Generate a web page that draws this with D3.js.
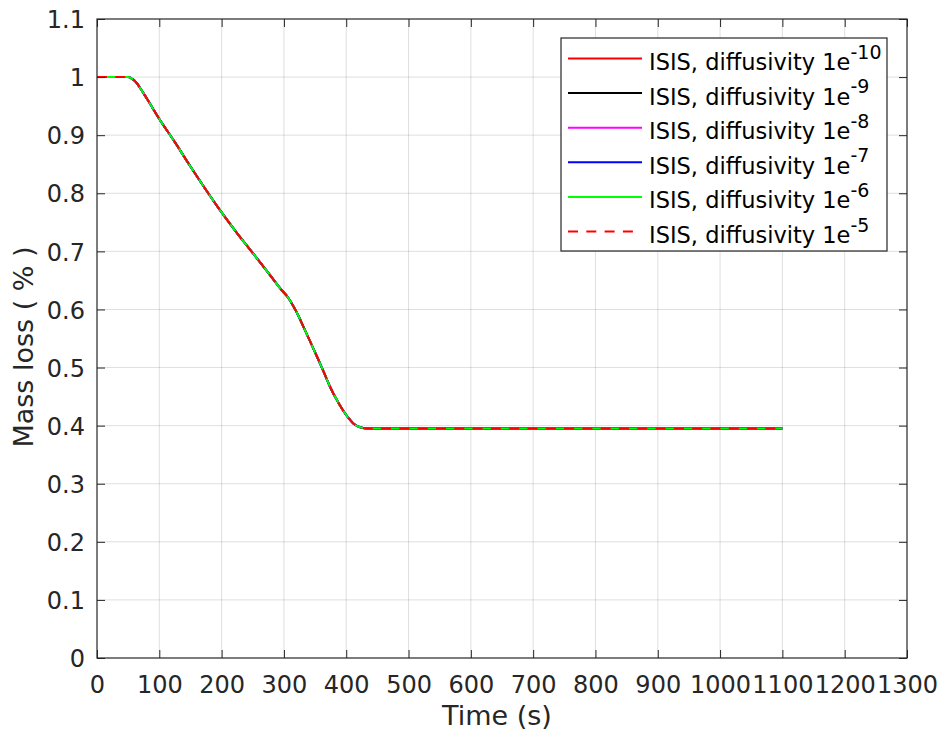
<!DOCTYPE html>
<html><head><meta charset="utf-8">
<script src="https://cdn.jsdelivr.net/npm/d3@7"></script>
<style>
html,body{margin:0;padding:0;background:#fff;}
svg{display:block;font-family:"DejaVu Sans",sans-serif;}
</style></head>
<body>
<svg id="chart" width="941" height="733"></svg>
<script>
// ---- data ----
const timeS = [0, 20, 40, 50, 55, 60, 65, 70, 80, 100, 125, 150, 178, 200, 225, 245, 270, 299, 305, 310, 320, 331, 342, 353, 364, 374, 385, 395, 403, 411, 418, 427, 440, 500, 600, 700, 800, 900, 1000, 1100];
const massLoss = [1.0, 1.0, 1.0, 1.0, 0.998, 0.994, 0.988, 0.980, 0.963, 0.928, 0.888, 0.846, 0.801, 0.767, 0.731, 0.704, 0.670, 0.630, 0.623, 0.615, 0.596, 0.571, 0.545, 0.519, 0.492, 0.467, 0.444, 0.426, 0.414, 0.404, 0.399, 0.396, 0.395, 0.395, 0.395, 0.395, 0.395, 0.395, 0.395, 0.395];
const seriesExp = ["-10", "-9", "-8", "-7", "-6", "-5"];
const seriesColors = ["#ff0000", "#000000", "#ff00ff", "#0000ff", "#00ff00", "#ff0000"];
const seriesDashed = [false, false, false, false, false, true];
const xTicks = [0, 100, 200, 300, 400, 500, 600, 700, 800, 900, 1000, 1100, 1200, 1300];
const yTicks = [0, 0.1, 0.2, 0.3, 0.4, 0.5, 0.6, 0.7, 0.8, 0.9, 1, 1.1];

// ---- layout ----
const L = 97, R = 907, T = 19, B = 658;
const ink = "#262626";
const svg = d3.select("#chart");
const x = d3.scaleLinear().domain([0, 1300]).range([L, R]);
const y = d3.scaleLinear().domain([0, 1.1]).range([B, T]);

// grid
const g = svg.append("g");
g.selectAll(".gx").data(xTicks.slice(1, -1)).join("line")
  .attr("x1", d => x(d)).attr("x2", d => x(d)).attr("y1", T).attr("y2", B)
  .attr("stroke", ink).attr("stroke-opacity", 0.15).attr("stroke-width", 1);
g.selectAll(".gy").data(yTicks.slice(1, -1)).join("line")
  .attr("x1", L).attr("x2", R).attr("y1", d => y(d)).attr("y2", d => y(d))
  .attr("stroke", ink).attr("stroke-opacity", 0.15).attr("stroke-width", 1);

// data lines
svg.append("clipPath").attr("id", "clip").append("rect")
  .attr("x", L).attr("y", T).attr("width", R - L).attr("height", B - T);
const pts = timeS.map((t, i) => [t, massLoss[i]]);
const line = d3.line().x(d => x(d[0])).y(d => y(d[1])).curve(d3.curveMonotoneX);
const lg = svg.append("g").attr("clip-path", "url(#clip)");
seriesExp.forEach((e, i) => {
  lg.append("path").attr("d", line(pts)).attr("fill", "none")
    .attr("stroke", seriesColors[i]).attr("stroke-width", 2)
    .attr("stroke-dasharray", seriesDashed[i] ? "10,8.3" : null);
});

// axes (box + inward ticks)
const tl = 8;
const axB = d3.axisBottom(x).tickValues(xTicks).tickSize(-tl).tickPadding(0).tickFormat(d3.format("d"));
const axT = d3.axisTop(x).tickValues(xTicks).tickSize(-tl).tickFormat("");
const axL = d3.axisLeft(y).tickValues(yTicks).tickSize(-tl).tickPadding(0).tickFormat(d => String(+d.toFixed(1)));
const axR = d3.axisRight(y).tickValues(yTicks).tickSize(-tl).tickFormat("");
function styleAxis(sel) {
  sel.select(".domain").remove();
  sel.selectAll(".tick line").attr("stroke", ink).attr("stroke-width", 1);
  sel.selectAll("text").attr("fill", ink).attr("font-size", 24).attr("font-family", "DejaVu Sans");
}
const gb = svg.append("g").attr("transform", `translate(0,${B})`).call(axB).call(styleAxis);
gb.selectAll("text").attr("dy", null).attr("y", 35);
svg.append("g").attr("transform", `translate(0,${T})`).call(axT).call(styleAxis);
const gl = svg.append("g").attr("transform", `translate(${L},0)`).call(axL).call(styleAxis);
gl.selectAll("text").attr("x", -12).attr("dy", "0.36em");
svg.append("g").attr("transform", `translate(${R},0)`).call(axR).call(styleAxis);
svg.append("rect").attr("x", L).attr("y", T).attr("width", R - L).attr("height", B - T)
  .attr("fill", "none").attr("stroke", ink).attr("stroke-width", 1.2);

// axis labels
svg.append("text").attr("x", 497).attr("y", 725).attr("text-anchor", "middle")
  .attr("font-size", 27).attr("fill", ink).text("Time (s)");
svg.append("text").attr("transform", "translate(33,347) rotate(-90)").attr("text-anchor", "middle")
  .attr("font-size", 27).attr("fill", ink).text("Mass loss ( % )");

// legend
const lgX = 561, lgY = 38, lgW = 326, lgH = 213;
const leg = svg.append("g");
leg.append("rect").attr("x", lgX).attr("y", lgY).attr("width", lgW).attr("height", lgH)
  .attr("fill", "#fff").attr("stroke", ink).attr("stroke-width", 1.2);
seriesExp.forEach((e, i) => {
  const base = 70 + i * 34.6;
  leg.append("line").attr("x1", 568).attr("x2", seriesDashed[i] ? 634 : 642)
    .attr("y1", base - 11.5).attr("y2", base - 11.5)
    .attr("stroke", seriesColors[i]).attr("stroke-width", 2)
    .attr("stroke-dasharray", seriesDashed[i] ? "10,8.3" : null);
  const t = leg.append("text").attr("x", 649).attr("y", base).attr("font-size", 22.5).attr("fill", "#000");
  t.append("tspan").text("ISIS, diffusivity 1e");
  t.append("tspan").attr("dy", -11.5).attr("font-size", 19).text(e);
});
</script>
</body></html>
